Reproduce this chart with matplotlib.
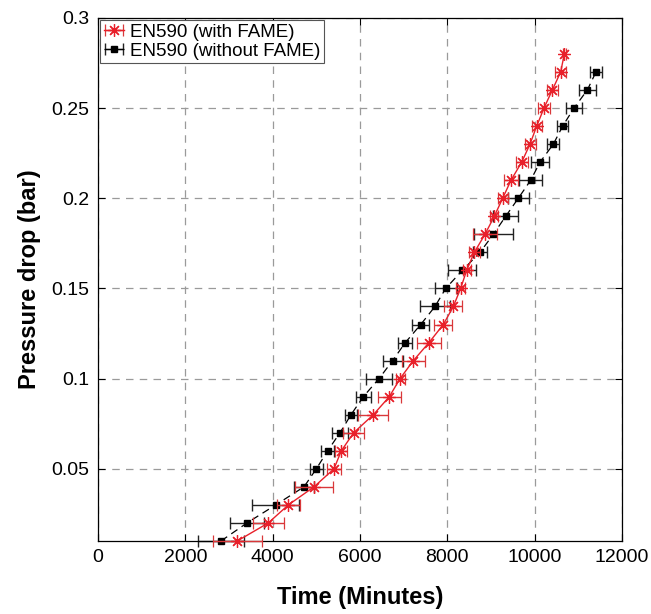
#!/usr/bin/env python3
# -*- coding: utf-8 -*-
"""
Pressure drop vs time for EN590 with / without FAME
"""

import numpy as np
import matplotlib
matplotlib.use('Agg')
import matplotlib.pyplot as plt

plt.rcParams['font.family'] = ['Liberation Sans', 'DejaVu Sans']
plt.rcParams.update({'font.size': 12})

# pressure drop (bar)
dp_fame   = [0.01, 0.02, 0.03, 0.04, 0.05, 0.06, 0.07, 0.08, 0.09, 0.10,
             0.11, 0.12, 0.13, 0.14, 0.15, 0.16, 0.17, 0.18, 0.19, 0.20,
             0.21, 0.22, 0.23, 0.24, 0.25, 0.26, 0.27, 0.28]
dp_nofame = dp_fame[:27]

# time (minutes) and x error
t_fame   = [3190, 3900, 4359, 4946, 5404, 5572, 5855, 6305, 6672, 6916,
            7222, 7580, 7908, 8137, 8304, 8442, 8617, 8862, 9075, 9267,
            9458, 9702, 9893, 10046, 10213, 10404, 10595, 10679]
err_fame = [560, 350, 260, 427, 160, 137, 237, 344, 256, 103,
            267, 286, 210, 210, 107, 92, 122, 267, 95, 115,
            160, 134, 126, 115, 134, 126, 122, 30]

t_nofame   = [2817, 3412, 4069, 4717, 5000, 5259, 5542, 5794, 6076, 6435,
              6747, 7038, 7390, 7717, 7962, 8343, 8748, 9053, 9336, 9625,
              9908, 10122, 10427, 10641, 10900, 11205, 11404]
err_nofame = [527, 390, 538, 229, 153, 149, 191, 134, 172, 298,
              229, 164, 191, 336, 256, 324, 153, 447, 286, 237,
              260, 202, 137, 126, 187, 191, 145]

f1 = plt.figure(figsize=(6.51, 6.14), dpi=100)
ax = f1.add_axes([0.1505, 0.1189, 0.805, 0.852])

eb1 = ax.errorbar(t_fame, dp_fame, xerr=err_fame, color='#e8202a', ecolor='#d9383a',
                  linestyle='-', linewidth=1, marker=(8, 2, 0), markersize=9,
                  markeredgewidth=0.9, capsize=4, elinewidth=1,
                  label='EN590 (with FAME)', zorder=3)
eb2 = ax.errorbar(t_nofame, dp_nofame, xerr=err_nofame, color='k', ecolor='#222222',
                  linestyle=(0, (6, 4)), linewidth=0.9, marker='s', markersize=4.5,
                  capsize=4, elinewidth=1,
                  label='EN590 (without FAME)', zorder=2)
# points sit on the bottom axis, don't clip them
for eb in (eb1, eb2):
    for art in eb.get_children():
        art.set_clip_on(False)

ax.set_xlim([0, 12000])
ax.set_ylim([0.01, 0.3])
ax.set_xticks(np.arange(0, 12001, 2000))
ax.set_yticks([0.05, 0.1, 0.15, 0.2, 0.25, 0.3])
ax.set_yticklabels(['0.05', '0.1', '0.15', '0.2', '0.25', '0.3'])

ax.grid(True, linestyle=(0, (6, 5)), color='#9a9a9a', linewidth=0.9)
ax.tick_params(direction='in', top=True, right=True, labelsize=14, length=5, pad=6)
for s in ax.spines.values():
    s.set_linewidth(0.9)

ax.set_xlabel('Time (Minutes)', fontsize=17, fontweight='bold', labelpad=14)
ax.set_ylabel('Pressure drop (bar)', fontsize=17, fontweight='bold', labelpad=8)

leg = ax.legend(loc='upper left', fontsize=13.5, fancybox=False, framealpha=1,
                edgecolor='#555555', handlelength=1.1, handletextpad=0.3,
                borderpad=0.2, labelspacing=0.1, borderaxespad=0.1)
leg.get_frame().set_linewidth(0.8)

plt.savefig('out.png', dpi=100)
